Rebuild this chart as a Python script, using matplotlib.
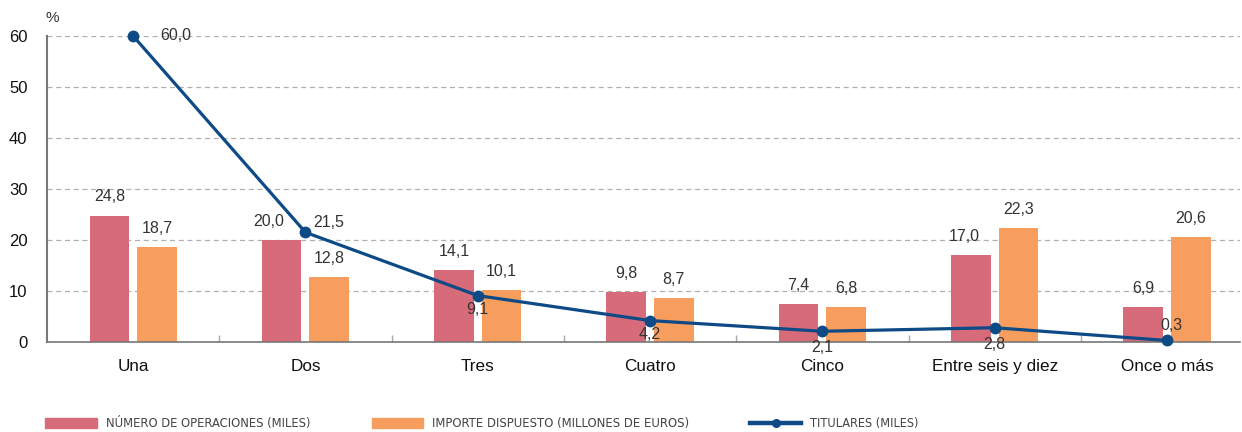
import matplotlib
matplotlib.use("Agg")
import matplotlib.pyplot as plt
from matplotlib.lines import Line2D
from matplotlib.patches import Rectangle
from matplotlib import font_manager
from matplotlib.font_manager import FontProperties
import numpy as np

categories = ["Una", "Dos", "Tres", "Cuatro", "Cinco", "Entre seis y diez", "Once o más"]
operaciones = [24.8, 20.0, 14.1, 9.8, 7.4, 17.0, 6.9]
importe = [18.7, 12.8, 10.1, 8.7, 6.8, 22.3, 20.6]
titulares = [60.0, 21.5, 9.1, 4.2, 2.1, 2.8, 0.3]
yticks = [0, 10, 20, 30, 40, 50, 60]
legend_labels = ["NÚMERO DE OPERACIONES (MILES)", "IMPORTE DISPUESTO (MILLONES DE EUROS)", "TITULARES (MILES)"]

RED = "#d76b7a"
ORANGE = "#f79e5f"
BLUE = "#0d4a86"
TXT = "#333333"

plt.rcParams['font.family'] = ['Liberation Sans', 'DejaVu Sans']

W, H = 1242, 432
fig = plt.figure(figsize=(W/100, H/100), dpi=100)
px_per_cat = 172.3
left_px, right_px = 47, 1240
ax = fig.add_axes([left_px/W, 1-342/H, (right_px-left_px)/W, (342-36)/H])

x = np.arange(len(categories))
w = 0.23
off = 0.138
ax.bar(x - off, operaciones, w, color=RED, zorder=2)
ax.bar(x + off, importe, w, color=ORANGE, zorder=2)
ax.plot(x, titulares, color=BLUE, lw=2.3, marker='o', ms=7.5, zorder=3, clip_on=False)

ax.set_xlim(-0.5, -0.5 + (right_px-left_px)/px_per_cat)
ax.set_ylim(0, 60)
ax.set_yticks(yticks)
ax.set_yticklabels([str(v) for v in yticks], fontsize=12, color="#111111")
ax.tick_params(axis='y', length=0, pad=14)
ax.set_xticks(x)
ax.set_xticklabels(categories, fontsize=12.3, color="#111111")
ax.tick_params(axis='x', length=0, pad=12)
ax.set_xticks(np.arange(0.5, len(categories) - 0.5, 1), minor=True)
ax.tick_params(axis='x', which='minor', direction='in', length=5, color="#aaaaaa", width=1)

for s in ['top', 'right']:
    ax.spines[s].set_visible(False)
ax.spines['left'].set_color("#777777")
ax.spines['bottom'].set_color("#777777")
ax.spines['left'].set_linewidth(1.5)
ax.spines['bottom'].set_linewidth(1.2)

ax.yaxis.grid(True, linestyle=(0, (4, 3)), color="#b0b0b0", lw=0.9, zorder=0)
ax.set_axisbelow(True)

def fmt(v):
    return f"{v:.1f}".replace(".", ",")

fs = 11.5
red_dx = [0, -9, 0, 0, 0, -5, 0]
for i, v in enumerate(operaciones):
    ax.annotate(fmt(v), (x[i] - off, v), xytext=(red_dx[i], 8), textcoords='offset points',
                ha='center', va='bottom', fontsize=fs, color=TXT)
for i, v in enumerate(importe):
    ax.annotate(fmt(v), (x[i] + off, v), xytext=(0, 8), textcoords='offset points',
                ha='center', va='bottom', fontsize=fs, color=TXT)

line_off = [(31, 0), (17, 7), (0, -10), (0, -10), (0, -12), (0, -12), (3, 11)]
for i, v in enumerate(titulares):
    dx, dy = line_off[i]
    ax.annotate(fmt(v), (x[i], v), xytext=(dx, dy), textcoords='offset points',
                ha='center', va='center', fontsize=fs, color=TXT, zorder=4)

fig.text(52/W, 1-18/H, "%", fontsize=11, color=TXT, ha='center', va='center')

# Legend font: prefer a condensed/narrow sans if one is installed
leg_prop = None
cands = []
for f in font_manager.fontManager.ttflist:
    key = (f.name + " " + f.fname).lower()
    if ('narrow' in key or 'condensed' in key) and 'bold' not in key and 'italic' not in key \
            and 'oblique' not in key and 'semi' not in key and 'extra' not in key \
            and 'light' not in key and 'mono' not in key and 'serif' not in key.replace('sans-serif', ''):
        cands.append(f.fname)
pref = [c for c in cands if 'liberation' in c.lower()] + [c for c in cands if 'noto' in c.lower()] + cands
if pref:
    leg_prop = FontProperties(fname=pref[0])
else:
    leg_prop = FontProperties(family=['Liberation Sans'])

leg_y = 1 - 423/H
patch_x = [(45, 97), (372, 423), (750, 801)]
text_x = [(106, 311), (432, 690), (810, 919)]
colors = [RED, ORANGE, BLUE]
fig.canvas.draw()
renderer = fig.canvas.get_renderer()
for i, lab in enumerate(legend_labels):
    x0, x1 = patch_x[i]
    if i < 2:
        fig.add_artist(Rectangle((x0/W, leg_y - 5/H), (x1-x0)/W, 10/H, transform=fig.transFigure,
                                 color=colors[i]))
    else:
        fig.add_artist(Line2D([x0/W, x1/W], [leg_y, leg_y], transform=fig.transFigure,
                              color=BLUE, lw=3.2))
        fig.add_artist(Line2D([(x0+x1)/2/W], [leg_y], transform=fig.transFigure,
                              color=BLUE, marker='o', ms=5.5))
    t = fig.text(text_x[i][0]/W, leg_y, lab, ha='left', va='center',
                 color="#444444", fontproperties=leg_prop)
    t.set_fontsize(10)
    target = text_x[i][1] - text_x[i][0]
    wpx = t.get_window_extent(renderer).width
    t.set_fontsize(min(11.5, 10 * target / wpx))

fig.savefig("out.png", dpi=100)
